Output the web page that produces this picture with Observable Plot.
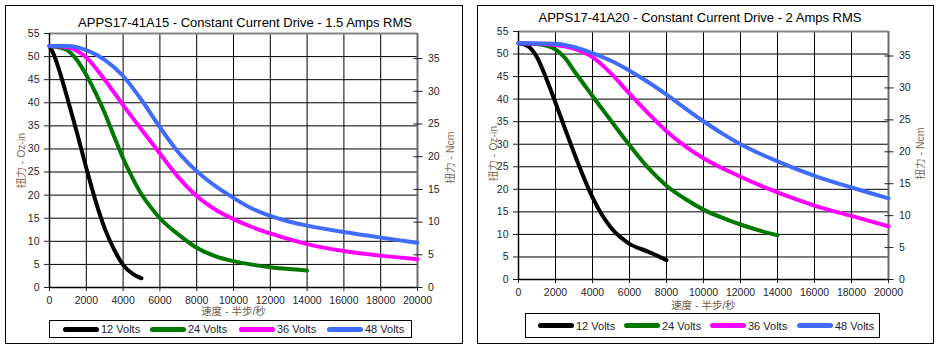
<!DOCTYPE html>
<html><head><meta charset="utf-8">
<script src="https://cdn.jsdelivr.net/npm/d3@7"></script>
<script src="https://cdn.jsdelivr.net/npm/@observablehq/plot@0.6"></script>
<style>
body{margin:0;background:#fff;font-family:"Liberation Sans",Arial,sans-serif;}
#root{position:relative;width:938px;height:351px;overflow:hidden;background:#fff;}
.panel{position:absolute;border:1.5px solid #000;box-sizing:border-box;}
.title{position:absolute;font-size:13px;line-height:15px;color:#000;white-space:nowrap;transform:translateX(-50%);}
.legend{position:absolute;border:1px solid #000;box-sizing:border-box;background:#fff;}
.item{position:absolute;top:50%;transform:translateY(-50%);display:flex;align-items:center;font-size:11px;color:#1a1a2e;white-space:nowrap;}
.sw{width:36px;height:5px;border-radius:3px;margin-right:2px;}
.plotwrap{position:absolute;}
</style></head>
<body><div id="root"></div>
<script>
// ---- data (oz-in torque vs half-steps/s) ----
const seriesNames = ["12 Volts", "24 Volts", "36 Volts", "48 Volts"];
const seriesColors = ["#000000", "#007800", "#ff00ff", "#3f6bff"];
const xTicks = [0,2000,4000,6000,8000,10000,12000,14000,16000,18000,20000];
const yTicks = [0,5,10,15,20,25,30,35,40,45,50,55];
const ncmTicks = [0,5,10,15,20,25,30,35];
const NCM_PER_OZIN = 0.70615;

const titleA = "APPS17-41A15 - Constant Current Drive - 1.5 Amps RMS";
const titleB = "APPS17-41A20 - Constant Current Drive - 2 Amps RMS";
const xLabel = "速度 - 半步/秒";
const yLabelLeft = "扭力 - Oz-in";
const yLabelRight = "扭力 - Ncm";

// Chart A: 1.5 A  [speed, torque oz-in]
const a12 = [[0,52.3],[250,50.3],[500,47.4],[1000,40.6],[1500,33.4],[2000,25.9],[2500,18.8],[3000,12.8],[3500,8.3],[4000,4.9],[4500,3.0],[5000,2.0]];
const a24 = [[0,52.3],[500,52.0],[1000,51.3],[1500,49.2],[2000,46.0],[2500,42.2],[3000,37.8],[3500,32.8],[4000,28.0],[4500,23.8],[5000,20.2],[5500,17.4],[6000,15.0],[7000,11.5],[8000,8.6],[9000,6.8],[10000,5.7],[11000,4.95],[12000,4.4],[13000,4.0],[14000,3.7]];
const a36 = [[0,52.3],[1000,52.0],[1500,51.2],[2000,49.8],[3000,45.0],[4000,39.5],[5000,34.2],[6000,29.0],[7000,23.9],[8000,19.8],[9000,16.9],[10000,14.8],[11000,13.1],[12000,11.7],[14000,9.4],[16000,7.9],[18000,6.9],[20000,6.1]];
const a48 = [[0,52.3],[1000,52.3],[2000,51.4],[3000,49.3],[4000,45.8],[5000,40.6],[6000,34.7],[7000,29.3],[8000,25.2],[9000,22.0],[10000,19.4],[11000,17.1],[12000,15.5],[13000,14.3],[14000,13.4],[16000,12.0],[18000,10.8],[20000,9.7]];

// Chart B: 2 A
const b12 = [[0,52.4],[500,51.8],[1000,49.3],[1500,44.6],[2000,39.2],[2500,33.6],[3000,28.1],[3500,22.9],[4000,18.2],[4500,14.4],[5000,11.5],[5500,9.4],[6000,7.9],[7000,6.2],[8000,4.3]];
const b24 = [[0,52.4],[1000,52.2],[2000,51.0],[2500,49.2],[3000,46.3],[4000,40.7],[5000,35.2],[6000,29.8],[7000,24.8],[8000,20.8],[9000,17.9],[10000,15.5],[11000,13.7],[12000,12.2],[13000,10.9],[14000,9.8]];
const b36 = [[0,52.4],[1000,52.3],[2000,52.0],[3000,51.2],[4000,49.3],[5000,45.7],[6000,41.2],[7000,36.9],[8000,32.9],[9000,29.6],[10000,26.9],[12000,22.8],[14000,19.3],[16000,16.4],[18000,14.1],[20000,11.8]];
const b48 = [[0,52.4],[2000,52.3],[3000,51.6],[4000,50.2],[5000,48.5],[6000,46.3],[7000,43.8],[8000,41.0],[9000,38.0],[10000,35.1],[11000,32.4],[12000,30.0],[13000,28.0],[14000,26.2],[16000,23.0],[18000,20.4],[20000,18.0]];

const root = document.getElementById("root");
function el(tag, cls, css, txt){const e=document.createElement(tag); if(cls) e.className=cls; Object.assign(e.style, css||{}); if(txt!=null) e.textContent=txt; root.appendChild(e); return e;}

function chart(cfg){
  el("div","panel",{left:cfg.box[0]+"px",top:cfg.box[1]+"px",width:cfg.box[2]+"px",height:cfg.box[3]+"px"});
  const fontLatin = "Liberation Sans, Arial, Noto Sans CJK SC, sans-serif";
  const marks = [
    Plot.gridX(xTicks, {stroke:"#000", strokeOpacity:1, strokeWidth:1}),
    Plot.gridY(yTicks, {stroke:"#000", strokeOpacity:1, strokeWidth:1}),
    Plot.ruleY([yTicks[yTicks.length-1]], {stroke:"#858585", strokeWidth:2}),
    Plot.ruleX([xTicks[xTicks.length-1]], {stroke:"#6a6a6a", strokeWidth:2}),
    Plot.ruleX([xTicks[0]], {stroke:"#000", strokeWidth:1.5}),
    Plot.ruleY([yTicks[0]], {stroke:"#000", strokeWidth:1.5}),
    Plot.axisX(xTicks, {tickSize:4, tickPadding:5, label:null, tickFormat:d=>String(d), fontSize:10.5}),
    Plot.axisY(yTicks, {anchor:"left", tickSize:5, tickPadding:5, label:null, fontSize:10.5}),
    Plot.axisY(ncmTicks.map(v=>v/NCM_PER_OZIN), {anchor:"right", tickSize:9, dx:-4.5, tickPadding:6, label:null, fontSize:10.5, tickFormat:d=>String(Math.round(d*NCM_PER_OZIN))}),
  ];
  cfg.series.forEach((pts,i)=>{
    marks.push(Plot.line(pts, {x:d=>d[0], y:d=>d[1], stroke:seriesColors[i], strokeWidth:4, curve:"monotone-x", strokeLinecap:"round", strokeLinejoin:"round"}));
  });
  marks.push(Plot.text([xLabel], {text:d=>d, frameAnchor:"bottom", lineAnchor:"middle", textAnchor:"middle", dy:cfg.xLabelDy, fill:"#6e5c4c", fontSize:10.5, fontFamily:fontLatin}));
  marks.push(Plot.text([yLabelLeft], {text:d=>d, frameAnchor:"left", textAnchor:"middle", lineAnchor:"middle", dx:cfg.yLabelDx, dy:cfg.yLabelDy, rotate:-90, fill:"#7d6a58", fontSize:10.5, fontFamily:fontLatin}));
  marks.push(Plot.text([yLabelRight], {text:d=>d, frameAnchor:"right", textAnchor:"middle", lineAnchor:"middle", dx:cfg.y2LabelDx, dy:cfg.y2LabelDy, rotate:-90, fill:"#7d6a58", fontSize:10.5, fontFamily:fontLatin}));
  const svg = Plot.plot({
    width: cfg.w, height: cfg.h,
    marginLeft: cfg.m[0], marginRight: cfg.m[1], marginTop: cfg.m[2], marginBottom: cfg.m[3],
    x: {domain:[xTicks[0], xTicks[xTicks.length-1]]},
    y: {domain:[yTicks[0], yTicks[yTicks.length-1]]},
    style: {fontFamily: fontLatin, fontSize:"10.5px", color:"#1f1f2a", background:"transparent", overflow:"visible"},
    marks
  });
  const wrap = el("div","plotwrap",{left:cfg.pos[0]+"px",top:cfg.pos[1]+"px"});
  wrap.appendChild(svg);
  el("div","title",{left:cfg.titlePos[0]+"px",top:cfg.titlePos[1]+"px"}, cfg.title);
  const lg = el("div","legend",{left:cfg.legend[0]+"px",top:cfg.legend[1]+"px",width:cfg.legend[2]+"px",height:cfg.legend[3]+"px"});
  seriesNames.forEach((n,i)=>{
    const it = document.createElement("div"); it.className="item"; it.style.left=(cfg.legendItems[i]-cfg.legend[0])+"px";
    const sw = document.createElement("span"); sw.className="sw"; sw.style.background=seriesColors[i];
    const tx = document.createElement("span"); tx.textContent=n;
    it.appendChild(sw); it.appendChild(tx); lg.appendChild(it);
  });
}

chart({
  box:[5,5,458,339], pos:[5,5], w:457, h:322, m:[44,45,28,40],
  series:[a12,a24,a36,a48], title:titleA, titlePos:[245,15],
  xLabelDy:24, yLabelDx:-28, yLabelDy:0, y2LabelDx:33, y2LabelDy:-3,
  legend:[49,320,363,18], legendItems:[62,149,238,326]
});
chart({
  box:[477,5,457,339], pos:[477,5], w:456, h:314, m:[41,45,26,40],
  series:[b12,b24,b36,b48], title:titleB, titlePos:[700,10],
  xLabelDy:26, yLabelDx:-25, yLabelDy:-2, y2LabelDx:32, y2LabelDy:-2,
  legend:[525,313,355,25], legendItems:[537,623,709,796]
});
</script></body></html>
